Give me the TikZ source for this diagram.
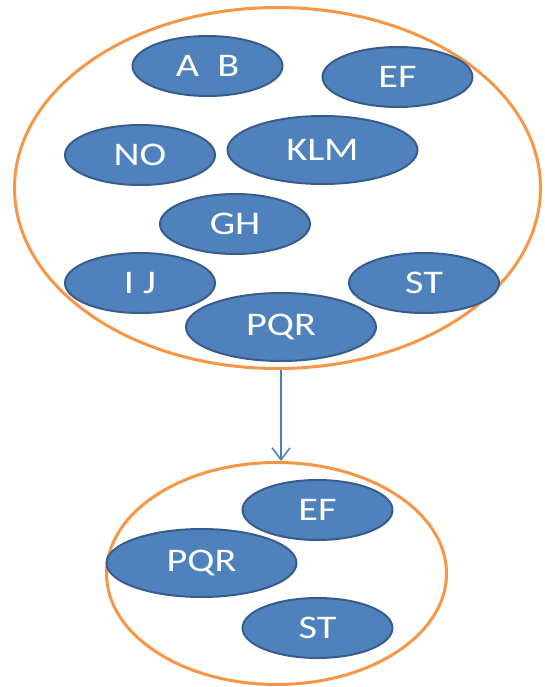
\documentclass[tikz,border=0pt]{standalone}
\usepackage{fontspec}
\setmainfont[FakeStretch=1.22]{Carlito}
\usetikzlibrary{shapes.geometric,arrows.meta}
\definecolor{boxfill}{HTML}{4F81BD}
\definecolor{boxline}{HTML}{385D8A}
\definecolor{ringline}{HTML}{F79646}
\definecolor{arrowline}{HTML}{4A7EBB}
\begin{document}
\begin{tikzpicture}[x=1pt, y=-1pt,
    item/.style={ellipse, draw=boxline, fill=boxfill, line width=2pt, inner sep=0pt,
      minimum width=150pt, minimum height=60pt, text=white,
      font=\fontsize{33}{36}\selectfont},
    wide/.style={item, minimum width=190pt, minimum height=68pt},
    ring/.style={ellipse, draw=ringline, line width=3pt, inner sep=0pt}]
  \useasboundingbox (0,0) rectangle (544,687);
  % top set
  \node[ring, minimum width=526pt, minimum height=361pt] (top) at (277.5,188) {};
  \node[item] (ab) at (207.5,66) {A\ \ B};
  \node[item] (ef) at (397.5,77) {EF};
  \node[item] (no) at (140,155) {NO};
  \node[wide] (klm) at (322.5,150) {KLM};
  \node[item] (gh) at (235,224) {GH};
  \node[item] (ij) at (140,283) {I J};
  \node[item] (st) at (424,283) {ST};
  \node[wide] (pqr) at (281,327) {PQR};
  % bottom set
  \node[ring, minimum width=340pt, minimum height=222pt] (bottom) at (276.5,573.5) {};
  \node[item] (ef2) at (317.5,510) {EF};
  \node[wide] (pqr2) at (201.5,563) {PQR};
  \node[item] (st2) at (317.5,628) {ST};
  \draw[arrowline, line width=1.5pt, -{Straight Barb[length=12pt,width=18pt]}]
    (top.south -| pqr) -- (bottom.north -| pqr);
\end{tikzpicture}
\end{document}
